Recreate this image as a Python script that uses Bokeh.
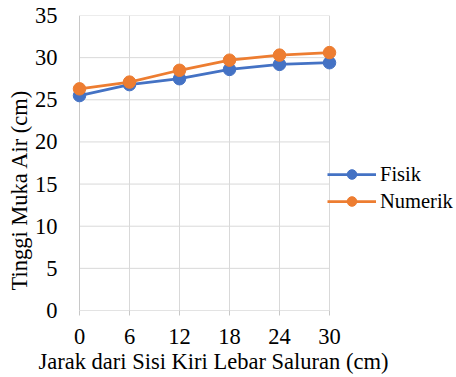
from bokeh.plotting import figure
from bokeh.models import Range1d, FixedTicker, Legend, LegendItem, Title
from bokeh.embed import file_html
from bokeh.resources import INLINE

# Water surface height across the channel width
jarak = [0, 6, 12, 18, 24, 30]
fisik = [25.5, 26.8, 27.5, 28.6, 29.2, 29.4]
numerik = [26.3, 27.1, 28.5, 29.7, 30.3, 30.6]
x_ticks = [0, 6, 12, 18, 24, 30]
y_ticks = [0, 5, 10, 15, 20, 25, 30, 35]

FONT = "'Liberation Serif', serif"
FS = "22.5px"
LEGEND_FS = "20.5px"
BLUE = "#4472C4"
ORANGE = "#ED7D31"
GRID = "#d9d9d9"
AXIS = "#c8c8c8"

# the frame runs to the right edge so the legend can sit inside it
p = figure(width=456, height=377, output_backend="svg", toolbar_location=None,
           x_range=Range1d(-1.2, 45.24), y_range=Range1d(0, 35),
           min_border_left=69, min_border_right=0,
           min_border_top=15, min_border_bottom=67)
p.outline_line_color = None
p.xgrid.visible = False
p.ygrid.visible = False

# gridlines and axis lines over the 0..30 / 0..35 box only
p.segment(x0=[0] * 7, x1=[30] * 7, y0=y_ticks[1:], y1=y_ticks[1:],
          line_color=GRID, line_width=1)
p.segment(x0=x_ticks[1:], x1=x_ticks[1:], y0=[0] * 5, y1=[35] * 5,
          line_color=GRID, line_width=1)
p.segment(x0=[0, 0], x1=[30, 0], y0=[0, 0], y1=[0, 35],
          line_color=AXIS, line_width=1)

r1l = p.line(jarak, fisik, line_color=BLUE, line_width=2.75)
r1m = p.scatter(jarak, fisik, size=12.5, fill_color=BLUE, line_color=BLUE)
r2l = p.line(jarak, numerik, line_color=ORANGE, line_width=2.75)
r2m = p.scatter(jarak, numerik, size=12.5, fill_color=ORANGE, line_color=ORANGE)

xa = p.xaxis[0]
xa.ticker = FixedTicker(ticks=x_ticks)
xa.axis_line_color = None
xa.major_tick_in = 0
xa.major_tick_out = 5
xa.major_tick_line_color = AXIS
xa.minor_tick_line_color = None
xa.major_label_standoff = 13
xa.major_label_text_font = FONT
xa.major_label_text_font_size = FS
xa.major_label_text_color = "#000000"

ya = p.yaxis[0]
ya.ticker = FixedTicker(ticks=y_ticks)
ya.axis_line_color = None
ya.major_tick_in = 0
ya.major_tick_out = 0
ya.minor_tick_line_color = None
ya.major_label_standoff = 12
ya.major_label_text_font = FONT
ya.major_label_text_font_size = FS
ya.major_label_text_color = "#000000"

p.add_layout(Title(text="Jarak dari Sisi Kiri Lebar Saluran (cm)",
                   align="left", offset=-31, standoff=0,
                   text_font=FONT, text_font_size=FS, text_font_style="normal",
                   text_color="#000000"), "below")
p.add_layout(Title(text="Tinggi Muka Air (cm)",
                   align="left", offset=20, standoff=0,
                   text_font=FONT, text_font_size=FS, text_font_style="normal",
                   text_color="#000000"), "left")

legend = Legend(items=[LegendItem(label="Fisik", renderers=[r1l, r1m]),
                       LegendItem(label="Numerik", renderers=[r2l, r2m])],
                location=(258, 97), orientation="vertical",
                glyph_width=49, glyph_height=24, label_height=24,
                label_standoff=4, spacing=3, padding=0, margin=0,
                border_line_color=None, background_fill_alpha=0,
                label_text_font=FONT, label_text_font_size=LEGEND_FS,
                label_text_color="#000000")
p.add_layout(legend, "center")

open("out.html", "w").write(file_html(p, INLINE))
